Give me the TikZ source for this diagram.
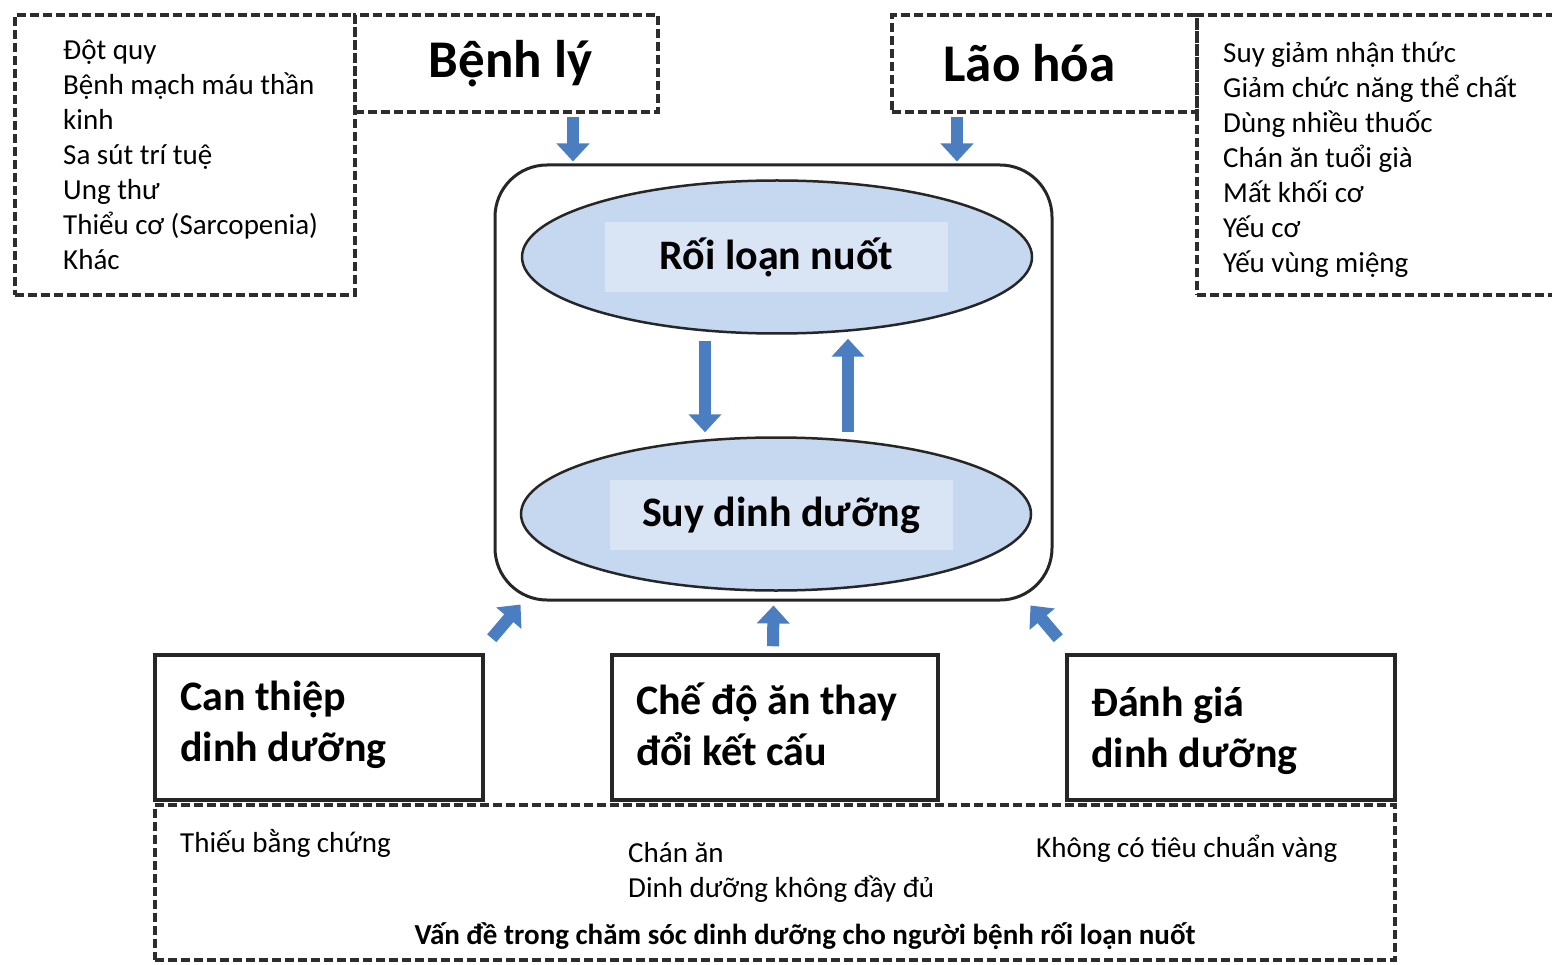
\documentclass[tikz,border=0pt]{standalone}
\usepackage{fontspec}
\setmainfont{Carlito}
\usetikzlibrary{arrows.meta,positioning,shapes.geometric,calc}

\definecolor{arrowblue}{RGB}{74,126,193}
\definecolor{ellblue}{RGB}{197,216,240}
\definecolor{labblue}{RGB}{217,228,244}
\definecolor{dashgray}{RGB}{45,45,45}

\begin{document}
\begin{tikzpicture}[x=1pt, y=-1pt, >={Triangle[width=32pt,length=18pt]}]
\tikzstyle{dashbox}=[draw=dashgray, line width=3.2pt, dash pattern=on 9pt off 4pt, inner sep=0pt]
\tikzstyle{solidbox}=[draw=black!85, line width=3.5pt, inner sep=0pt, minimum height=145]
\tikzstyle{listtext}=[anchor=base west, align=left, inner sep=0pt, font=\fontsize{29}{35}\selectfont]
\tikzstyle{bigtitle}=[font=\fontsize{53}{60}\selectfont\bfseries]
\tikzstyle{boxtext}=[anchor=base west, align=left, inner sep=0pt, font=\fontsize{42}{51}\selectfont\bfseries]
\tikzstyle{ell}=[ellipse, draw=black!85, line width=2.5pt, fill=ellblue, minimum width=510, minimum height=153]
\tikzstyle{labelbox}=[fill=labblue, minimum width=343, minimum height=70, font=\fontsize{42}{48}\selectfont\bfseries]
\tikzstyle{flow}=[->, draw=arrowblue, line width=12pt]

\useasboundingbox (0,0) rectangle (1552,965);
\fill[white] (0,0) rectangle (1552,965);
\clip (0,0) rectangle (1552,965);

% top left: Benh ly
\node[dashbox, minimum width=340, minimum height=280] (benhlist) at (185,155) {};
\node[dashbox, minimum width=303, minimum height=97, bigtitle] (benhly) at (506.5,63.5) {\kern8pt Bệnh lý};
% base of a multi-line node = its last line
\node[listtext] (benhitems) at (63,270) {Đột quy\\Bệnh mạch máu thần\\kinh\\Sa sút trí tuệ\\Ung thư\\Thiểu cơ (Sarcopenia)\\Khác};

% top right: Lao hoa
\node[dashbox, minimum width=305, minimum height=97, bigtitle] (laohoa) at (1044.5,63.5) {Lão hóa\kern30pt};
\node[dashbox, minimum width=403, minimum height=280] (laolist) at (1398.5,155) {};
\node[listtext] (laoitems) at (1223,273) {Suy giảm nhận thức\\Giảm chức năng thể chất\\Dùng nhiều thuốc\\Chán ăn tuổi già\\Mất khối cơ\\Yếu cơ\\Yếu vùng miệng};

% core
\node[draw=black!85, line width=3pt, rounded corners=52pt, minimum width=557, minimum height=435] (core) at (773.5,382.5) {};
\node[ell] (dys) at (777,257) {};
\node[labelbox] (dyslab) at (776.5,257) {Rối loạn nuốt};
\node[ell] (mal) at (776,514) {};
\node[labelbox] (mallab) at (781,515) {Suy dinh dưỡng};

% bottom boxes
\node[solidbox, minimum width=328] (can) at (319,727.5) {};
\node[solidbox, minimum width=326] (che) at (775,727.5) {};
\node[solidbox, minimum width=328] (danh) at (1231,727.5) {};
\node[boxtext] (cantext) at (180,761) {Can thiệp\\dinh dưỡng};
\node[boxtext] (chetext) at (636,765) {Chế độ ăn thay\\đổi kết cấu};
\node[boxtext] (danhtext) at (1091,767) {Đánh giá\\dinh dưỡng};

\node[dashbox, minimum width=1240, minimum height=155] (issues) at (775,882.5) {};
\node[listtext] (canissue) at (180,852) {Thiếu bằng chứng};
\node[listtext] (cheissue) at (628,897) {Chán ăn\\Dinh dưỡng không đầy đủ};
\node[listtext] (danhissue) at (1036,857) {Không có tiêu chuẩn vàng};
\node[anchor=base, inner sep=0pt, font=\fontsize{29}{33}\selectfont\bfseries] (issuetitle) at (805,944) {Vấn đề trong chăm sóc dinh dưỡng cho người bệnh rối loạn nuốt};

% arrows
\coordinate (xb) at (573,0);
\coordinate (xl) at (957,0);
\coordinate (xd) at (705,0);
\coordinate (xu) at (848,0);
\path
($(benhly.south -| xb)+(0,3)$) edge[flow] ($(core.north -| xb)+(0,-2)$)
($(laohoa.south -| xl)+(0,3)$) edge[flow] ($(core.north -| xl)+(0,-2)$)
($(dys.south -| xd)+(0,6)$)   edge[flow] ($(mal.north -| xd)+(0,-4)$)
($(mal.north -| xu)+(0,-4)$)  edge[flow] ($(dys.south -| xu)+(0,4)$)
($(can.north east)+(7,-15)$)  edge[flow] ($(core.south west)+(27,3)$)
($(che.north)+(-2,-7)$)       edge[flow] ($(core.south)+(0,4)$)
($(danh.north west)+(-7,-15)$) edge[flow] ($(core.south east)+(-23,4)$);
\end{tikzpicture}
\end{document}
